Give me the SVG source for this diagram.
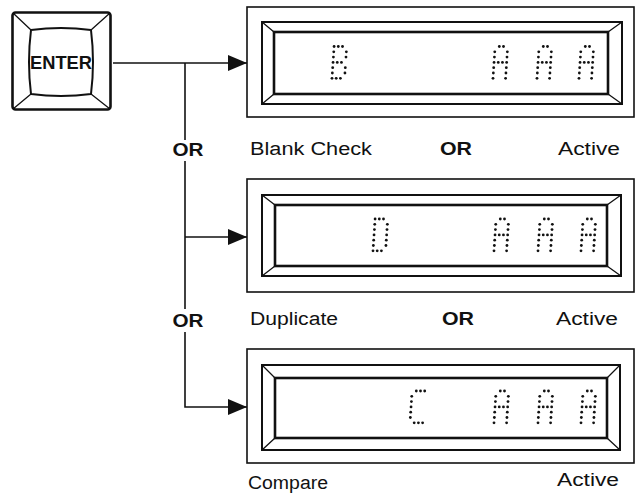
<svg xmlns="http://www.w3.org/2000/svg" xmlns:xlink="http://www.w3.org/1999/xlink" width="641" height="500" viewBox="0 0 641 500">
<style>
.ln{fill:none;stroke:#111;stroke-width:1.6}
.bz{fill:none;stroke:#111;stroke-width:2}
.win{fill:none;stroke:#111;stroke-width:2.6}
.dg{fill:none;stroke:#111;stroke-width:1.3}
.lbl{font-family:"Liberation Sans",Arial,sans-serif;font-size:18px;fill:#111}
.bold{font-family:"Liberation Sans",Arial,sans-serif;font-size:18px;font-weight:bold;fill:#111}
.dot{fill:#111}
</style>
<defs>
<marker id="ah" markerWidth="19" markerHeight="16" refX="19" refY="8" orient="auto" markerUnits="userSpaceOnUse">
<path d="M0,0 L19,8 L0,16 Z" fill="#111"/>
</marker>
<g id="chA" class="dot">
<circle cx="6.3" cy="0" r="1.4"/><circle cx="10.5" cy="0" r="1.4"/>
<circle cx="1.75" cy="5.3" r="1.4"/><circle cx="14.35" cy="5.3" r="1.4"/>
<circle cx="1.4" cy="10.6" r="1.4"/><circle cx="14" cy="10.6" r="1.4"/>
<circle cx="1.05" cy="15.9" r="1.4"/><circle cx="5.25" cy="15.9" r="1.4"/><circle cx="9.45" cy="15.9" r="1.4"/><circle cx="13.65" cy="15.9" r="1.4"/>
<circle cx="0.7" cy="21.2" r="1.4"/><circle cx="13.3" cy="21.2" r="1.4"/>
<circle cx="0.35" cy="26.5" r="1.4"/><circle cx="12.95" cy="26.5" r="1.4"/>
<circle cx="0" cy="31.8" r="1.4"/><circle cx="12.6" cy="31.8" r="1.4"/>
</g>
<g id="chB" class="dot">
<circle cx="2.1" cy="0" r="1.4"/><circle cx="6.3" cy="0" r="1.4"/><circle cx="10.5" cy="0" r="1.4"/>
<circle cx="1.75" cy="5.3" r="1.4"/><circle cx="14.35" cy="5.3" r="1.4"/>
<circle cx="1.4" cy="10.6" r="1.4"/><circle cx="14" cy="10.6" r="1.4"/>
<circle cx="1.05" cy="15.9" r="1.4"/><circle cx="5.25" cy="15.9" r="1.4"/><circle cx="9.45" cy="15.9" r="1.4"/>
<circle cx="0.7" cy="21.2" r="1.4"/><circle cx="13.3" cy="21.2" r="1.4"/>
<circle cx="0.35" cy="26.5" r="1.4"/><circle cx="12.95" cy="26.5" r="1.4"/>
<circle cx="0" cy="31.8" r="1.4"/><circle cx="4.2" cy="31.8" r="1.4"/><circle cx="8.4" cy="31.8" r="1.4"/>
</g>
<g id="chD" class="dot">
<circle cx="2.1" cy="0" r="1.4"/><circle cx="6.3" cy="0" r="1.4"/><circle cx="10.5" cy="0" r="1.4"/>
<circle cx="1.75" cy="5.3" r="1.4"/><circle cx="14.35" cy="5.3" r="1.4"/>
<circle cx="1.4" cy="10.6" r="1.4"/><circle cx="14" cy="10.6" r="1.4"/>
<circle cx="1.05" cy="15.9" r="1.4"/><circle cx="13.65" cy="15.9" r="1.4"/>
<circle cx="0.7" cy="21.2" r="1.4"/><circle cx="13.3" cy="21.2" r="1.4"/>
<circle cx="0.35" cy="26.5" r="1.4"/><circle cx="12.95" cy="26.5" r="1.4"/>
<circle cx="0" cy="31.8" r="1.4"/><circle cx="4.2" cy="31.8" r="1.4"/><circle cx="8.4" cy="31.8" r="1.4"/>
</g>
<g id="chC" class="dot">
<circle cx="6.3" cy="0" r="1.4"/><circle cx="10.5" cy="0" r="1.4"/><circle cx="14.7" cy="0" r="1.4"/>
<circle cx="1.75" cy="5.3" r="1.4"/><circle cx="1.4" cy="10.6" r="1.4"/><circle cx="1.05" cy="15.9" r="1.4"/><circle cx="0.7" cy="21.2" r="1.4"/><circle cx="0.35" cy="26.5" r="1.4"/>
<circle cx="4.2" cy="31.8" r="1.4"/><circle cx="8.4" cy="31.8" r="1.4"/><circle cx="12.6" cy="31.8" r="1.4"/>
</g>
</defs>
<rect width="641" height="500" fill="#fff"/>

<g id="enter">
<rect x="12.5" y="12.5" width="98" height="97" rx="3" fill="none" stroke="#111" stroke-width="2.6"/>
<path class="bz" d="M31,30 Q61,26 91,30 Q95,62 91,94 Q61,98 31,94 Q27,62 31,30 Z"/>
<path class="dg" d="M13,13 L31,30 M110,13 L91,30 M13,109 L31,94 M110,109 L91,94"/>
<text class="bold" x="61" y="69" text-anchor="middle" font-size="18" textLength="62" lengthAdjust="spacingAndGlyphs">ENTER</text>
</g>

<g id="connectors">
<path class="ln" d="M113,63 L247,63" marker-end="url(#ah)"/>
<path class="ln" d="M185,63 L185,140"/>
<path class="ln" d="M185,161 L185,309"/>
<path class="ln" d="M185,332 L185,407 L247,407" marker-end="url(#ah)"/>
<path class="ln" d="M185,237 L247,237" marker-end="url(#ah)"/>
<text class="bold" x="188" y="156" text-anchor="middle" textLength="31" lengthAdjust="spacingAndGlyphs">OR</text>
<text class="bold" x="188" y="327" text-anchor="middle" textLength="31" lengthAdjust="spacingAndGlyphs">OR</text>
</g>

<g id="display1">
<rect class="ln" x="247" y="7" width="387" height="110"/>
<rect class="bz" x="262" y="22" width="360" height="82"/>
<rect class="win" x="274" y="32" width="334" height="62"/>
<path class="dg" d="M262,22 L274,32 M622,22 L608,32 M262,104 L274,94 M622,104 L608,94"/>
<use xlink:href="#chB" x="332" y="46.5"/>
<use xlink:href="#chA" x="493" y="46.5"/>
<use xlink:href="#chA" x="537" y="46.5"/>
<use xlink:href="#chA" x="579" y="46.5"/>
<text class="lbl" x="250" y="155" textLength="122" lengthAdjust="spacingAndGlyphs">Blank Check</text>
<text class="bold" x="440" y="155" textLength="32" lengthAdjust="spacingAndGlyphs">OR</text>
<text class="lbl" x="558" y="155" textLength="62" lengthAdjust="spacingAndGlyphs">Active</text>
</g>

<g id="display2">
<rect class="ln" x="247" y="179" width="387" height="113"/>
<rect class="bz" x="262" y="195" width="359" height="81"/>
<rect class="win" x="275" y="205" width="332" height="61"/>
<path class="dg" d="M262,195 L275,205 M621,195 L607,205 M262,276 L275,266 M621,276 L607,266"/>
<use xlink:href="#chD" x="373" y="219"/>
<use xlink:href="#chA" x="494" y="219"/>
<use xlink:href="#chA" x="538" y="219"/>
<use xlink:href="#chA" x="581" y="219"/>
<text class="lbl" x="250" y="325" textLength="88" lengthAdjust="spacingAndGlyphs">Duplicate</text>
<text class="bold" x="442" y="325" textLength="32" lengthAdjust="spacingAndGlyphs">OR</text>
<text class="lbl" x="556" y="325" textLength="62" lengthAdjust="spacingAndGlyphs">Active</text>
</g>

<g id="display3">
<rect class="ln" x="247" y="349" width="387" height="114"/>
<rect class="bz" x="262" y="365" width="358" height="85"/>
<rect class="win" x="275" y="378" width="332" height="60"/>
<path class="dg" d="M262,365 L275,378 M620,365 L607,378 M262,450 L275,438 M620,450 L607,438"/>
<use xlink:href="#chC" x="410" y="391"/>
<use xlink:href="#chA" x="494" y="391"/>
<use xlink:href="#chA" x="538" y="391"/>
<use xlink:href="#chA" x="581" y="391"/>
<text class="lbl" x="248" y="489" textLength="80" lengthAdjust="spacingAndGlyphs">Compare</text>
<text class="lbl" x="557" y="486" textLength="62" lengthAdjust="spacingAndGlyphs">Active</text>
</g>
</svg>
